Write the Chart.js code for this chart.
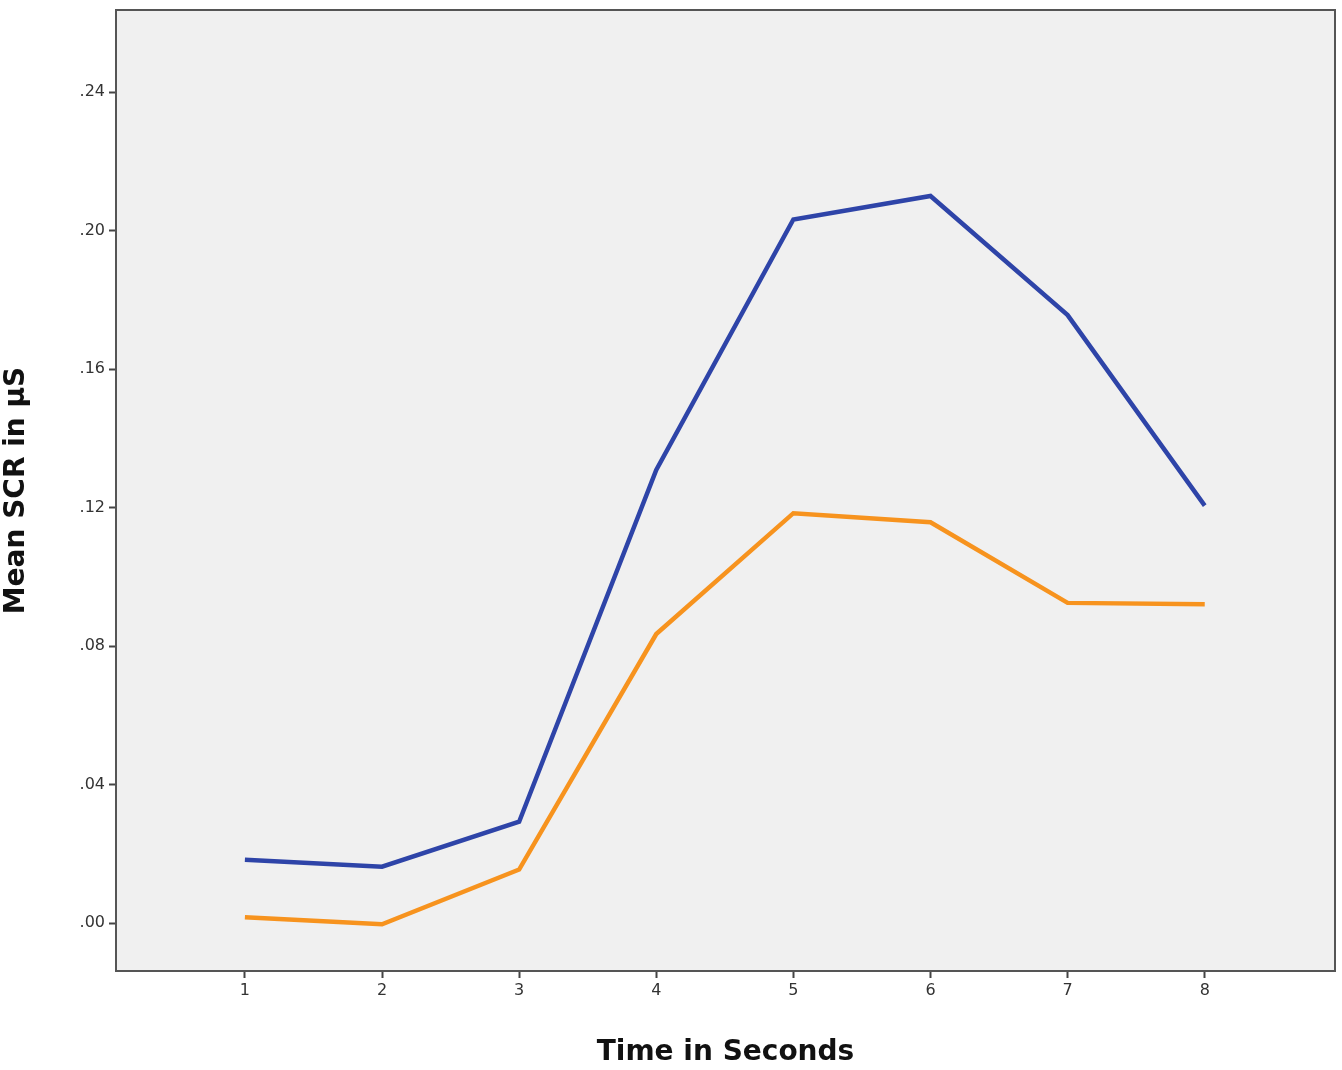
<!DOCTYPE html>
<html>
<head>
<meta charset="utf-8">
<script src="https://cdn.jsdelivr.net/npm/chart.js@4/dist/chart.umd.min.js"></script>
<style>
    html, body { margin: 0; padding: 0; background: #fff; }
    #wrap { width: 1342px; height: 1070px; }
</style>
</head>
<body>
<div id="wrap"><canvas id="chart" width="1342" height="1070"></canvas></div>
<script>
// Dati
const secondi = [1, 2, 3, 4, 5, 6, 7, 8];
const serieBlu = [0.0183, 0.0163, 0.0293, 0.1309, 0.2032, 0.2100, 0.1756, 0.1206];
const serieArancio = [0.0017, -0.0003, 0.0155, 0.0835, 0.1184, 0.1158, 0.0925, 0.0921];
const tickY = [0, 0.04, 0.08, 0.12, 0.16, 0.20, 0.24];

const sfondoArea = {
    id: 'sfondoArea',
    beforeDraw(chart) {
        const { ctx, chartArea: a } = chart;
        ctx.save();
        ctx.fillStyle = '#f0f0f0';
        ctx.fillRect(a.left, a.top, a.right - a.left, a.bottom - a.top);
        ctx.restore();
    },
    afterDraw(chart) {
        const { ctx, chartArea: a } = chart;
        ctx.save();
        ctx.strokeStyle = '#555';
        ctx.lineWidth = 2;
        ctx.strokeRect(a.left, a.top, a.right - a.left, a.bottom - a.top);
        ctx.restore();
    }
};

window.onload = () => {
    const ctx = document.getElementById('chart').getContext('2d');
    const punti = arr => arr.map((v, i) => ({ x: secondi[i], y: v }));

    new Chart(ctx, {
        type: 'line',
        data: {
            datasets: [
                { data: punti(serieBlu), borderColor: '#2e44a8', borderWidth: 4.5, pointRadius: 0, tension: 0 },
                { data: punti(serieArancio), borderColor: '#f7931e', borderWidth: 4.5, pointRadius: 0, tension: 0 }
            ]
        },
        options: {
            responsive: false,
            animation: false,
            layout: { padding: { top: 10, right: 7, left: 0, bottom: 0 } },
            plugins: { legend: { display: false }, tooltip: { enabled: false } },
            scales: {
                x: {
                    type: 'linear',
                    min: 0.06,
                    max: 8.95,
                    afterFit: s => { s.height = 99; s.paddingLeft = 0; s.paddingRight = 0; },
                    afterBuildTicks: s => { s.ticks = secondi.map(v => ({ value: v })); },
                    grid: { drawOnChartArea: false, drawTicks: true, tickLength: 7, tickWidth: 2, color: '#444' },
                    border: { display: false },
                    ticks: {
                        color: '#333',
                        padding: 3,
                        maxRotation: 0,
                        font: { family: 'DejaVu Sans', size: 16 },
                        callback: v => String(v)
                    },
                    title: {
                        display: true,
                        text: 'Time in Seconds',
                        color: '#111',
                        padding: { top: 14, bottom: 0 },
                        font: { family: 'DejaVu Sans', size: 28, weight: 'bold' }
                    }
                },
                y: {
                    min: -0.0138,
                    max: 0.2637,
                    afterFit: s => { s.width = 116; s.paddingTop = 0; s.paddingBottom = 0; },
                    afterBuildTicks: s => { s.ticks = tickY.map(v => ({ value: v })); },
                    grid: { drawOnChartArea: false, drawTicks: true, tickLength: 7, tickWidth: 2, color: '#444' },
                    border: { display: false },
                    ticks: {
                        color: '#333',
                        padding: 4,
                        font: { family: 'DejaVu Sans', size: 16 },
                        callback: v => v.toFixed(2).replace(/^0/, '').replace(/^-0/, '-')
                    },
                    title: {
                        display: true,
                        text: 'Mean SCR in µS',
                        color: '#111',
                        padding: { top: 0, bottom: 6 },
                        font: { family: 'DejaVu Sans', size: 28, weight: 'bold' }
                    }
                }
            }
        },
        plugins: [sfondoArea]
    });
};
</script>
</body>
</html>
